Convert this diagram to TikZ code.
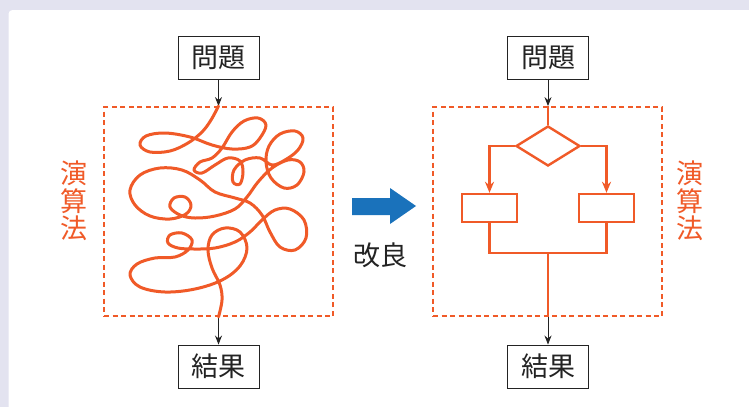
\documentclass[tikz,border=0pt]{standalone}
\usepackage{fontspec}
\newfontfamily\jp{Noto Sans CJK JP}
\usetikzlibrary{arrows.meta,shapes.geometric}
\definecolor{orng}{RGB}{240,90,40}
\definecolor{lav}{RGB}{227,227,240}
\definecolor{blu}{RGB}{26,114,187}
\definecolor{ink}{RGB}{35,35,35}
\begin{document}
\begin{tikzpicture}[x=1pt,y=-1pt,
 box/.style={draw=ink, line width=0.9pt, fill=white, minimum width=81pt, minimum height=43pt, inner sep=0pt, font=\jp\fontsize{27}{30}\selectfont, text=ink},
 frame/.style={draw=orng, line width=1.8pt, dash pattern=on 5pt off 3.5pt, minimum width=229pt, minimum height=209pt, inner sep=0pt},
 flow/.style={draw=orng, line width=2.4pt},
 tangle/.style={draw=orng, line width=3pt, line cap=round, line join=round},
 blk/.style={draw=ink, line width=0.9pt, -{Stealth[length=9pt,width=7pt]}},
 oarr/.style={flow, -{Stealth[length=11pt,width=9pt]}},
 vlabel/.style={text=orng, font=\jp\fontsize{27}{27.5}\selectfont, align=center, inner sep=0pt},
]
\useasboundingbox (0,0) rectangle (749,407);
\fill[lav] (0,0) rectangle (749,407);
\fill[white, rounded corners=4pt] (8.5,10) rectangle (780,440);

% frames and boxes
\node[frame] (f1) at (218.5,211.5) {};
\node[frame] (f2) at (547.5,211.5) {};
\node[box] (q1) at (218.5,57.5) {問題};
\node[box] (q2) at (548,57.5) {問題};
\node[box] (r1) at (218.5,366.5) {結果};
\node[box] (r2) at (548,366.5) {結果};

\draw[blk] (q1) -- (f1.north);
\draw[blk] (f1.south) -- (r1);
\draw[blk] (q2) -- (q2 |- f2.north);
\draw[blk] (q2 |- f2.south) -- (r2);

% side labels
\node[vlabel] (a1) at (73.5,201) {演\\算\\法};
\node[vlabel] (a2) at (690,201) {演\\算\\法};

% tangle
\draw[tangle] plot[smooth, tension=0.6] coordinates {
 (f1.north) (211,120) (202,132) (188,143) (170,151) (150,152) (140,145) (146,136)
 (165,133) (190,137) (212,145) (232,149) (250,147)
 (260,138) (266,125) (258,118) (244,121) (232,132) (222,148) (212,158)
 (200,162) (194,170) (202,173) (215,165) (228,158) (240,161)
 (243,172) (240,184) (233,182) (234,170) (245,160) (260,158) (272,165)
 (285,160) (298,150) (303,138) (295,131) (280,134) (269,146) (266,162)
 (271,178) (284,188) (297,185) (304,172) (300,162) (288,160)
 (272,168) (258,182) (247,197) (235,209) (215,216) (195,218)
 (180,215) (170,207) (174,198) (185,197) (191,205) (186,214) (170,219)
 (150,216) (135,205) (130,190) (140,175) (160,168) (182,170) (200,180)
 (215,192) (235,198) (250,203)
 (262,215) (270,232) (280,247) (295,250) (306,238) (304,220) (290,209)
 (275,210) (262,220) (250,232) (235,242) (215,248) (195,249)
 (178,248) (168,243) (170,235) (182,233) (192,240) (188,250) (175,257)
 (155,258) (137,264) (130,275) (140,287) (165,292) (195,289) (222,280)
 (240,266) (247,248) (240,232) (225,228) (212,235) (208,250) (212,268)
 (220,285) (222,300) (f1.south)};

% flowchart
\node[flow, shape=diamond, minimum width=64pt, minimum height=40pt, inner sep=0pt] (d) at (548,146) {};
\node[flow, minimum width=55pt, minimum height=28pt, inner sep=0pt] (b1) at (489.5,208) {};
\node[flow, minimum width=55pt, minimum height=28pt, inner sep=0pt] (b2) at (606.5,208) {};
\coordinate (j) at (548,253);
\draw[flow] (q2 |- f2.north) -- (d.north);
\draw[oarr] (d.west) -| (b1.north);
\draw[oarr] (d.east) -| (b2.north);
\draw[flow] (b1.south) -- (b1.south |- j) -- (b2.south |- j) -- (b2.south);
\draw[flow] (j) -- (j |- f2.south);

% improvement arrow
\fill[blu] (352,198) -- (390,198) -- (390,188) -- (416,206) -- (390,224) -- (390,215) -- (352,215) -- cycle;
\node[font=\jp\fontsize{27}{30}\selectfont, text=ink] (imp) at (380.5,255.5) {改良};
\end{tikzpicture}
\end{document}
